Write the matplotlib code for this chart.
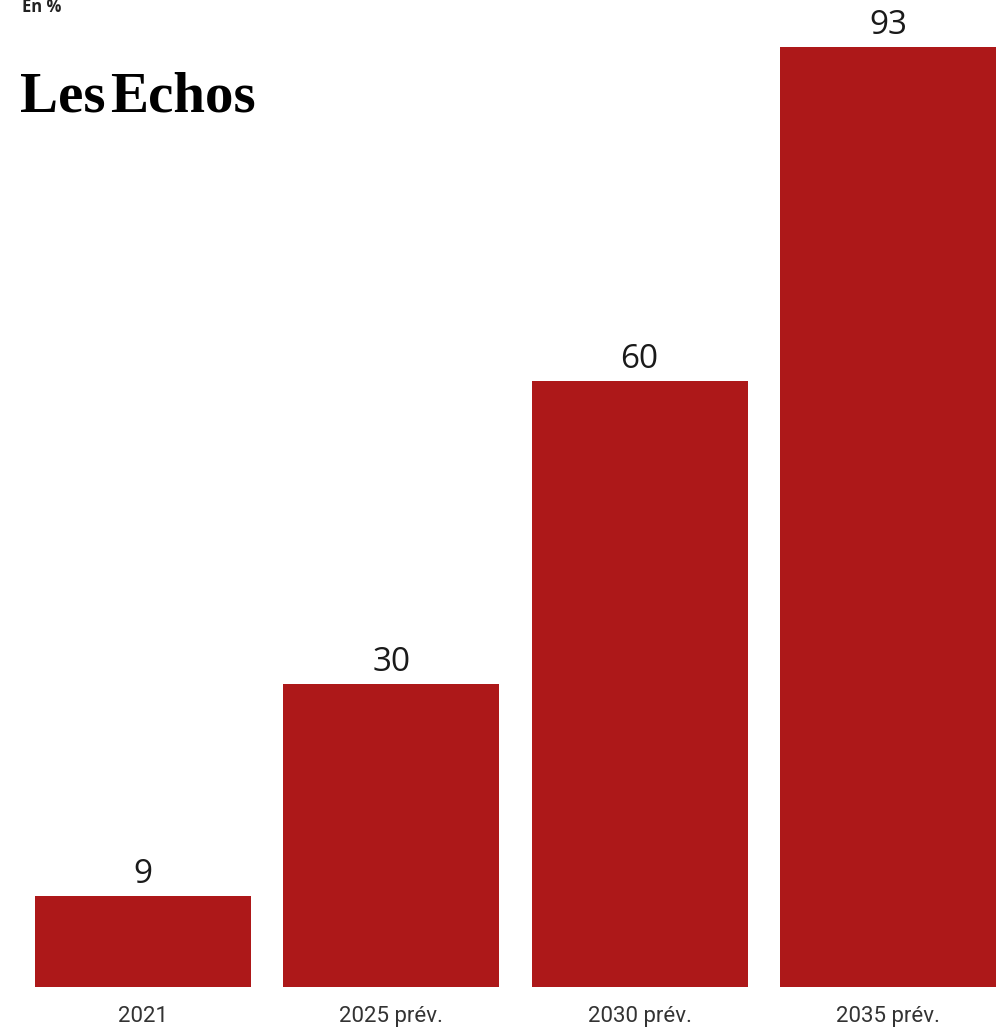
import matplotlib.pyplot as plt
import numpy as np

categories = ["2021", "2025 prév.", "2030 prév.", "2035 prév."]
values = [9, 30, 60, 93]

bar_color = "#ad1819"

fig = plt.figure(figsize=(10.05, 10.30), dpi=100)
fig.patch.set_facecolor("white")

# axes spans from the left edge of the first bar to the right edge of the last
ax = fig.add_axes([35 / 1005, 43 / 1030, 961 / 1005, 987 / 1030])
x = np.arange(len(categories))
width = 0.87
ax.bar(x, values, width=width, color=bar_color)
ax.set_xlim(-width / 2, len(categories) - 1 + width / 2)
ax.set_ylim(0, 97.7)

for xi, v in zip(x, values):
    ax.annotate(str(v), (xi, v), xytext=(0, 9.5), textcoords="offset points",
                ha="center", va="baseline", fontsize=24, color="#1a1a1a",
                family="Open Sans")

ax.set_xticks(x)
ax.set_xticklabels(categories, fontsize=16, color="#333333", family="Roboto")
ax.tick_params(axis="x", length=0, pad=14)
ax.set_yticks([])
for s in ax.spines.values():
    s.set_visible(False)

# header
fig.text(22 / 1005, 1 - 7 / 1030, "En %", fontsize=12, fontweight="bold",
         color="#222222", family="Open Sans", va="center", ha="left")
fig.text(20 / 1005, 1 - 112 / 1030, "Les", fontsize=41, fontweight="bold",
         family="Liberation Serif", color="black", va="baseline", ha="left")
fig.text(110 / 1005, 1 - 112 / 1030, "Echos", fontsize=41, fontweight="bold",
         family="Liberation Serif", color="black", va="baseline", ha="left")

fig.savefig("out.png", dpi=100)
